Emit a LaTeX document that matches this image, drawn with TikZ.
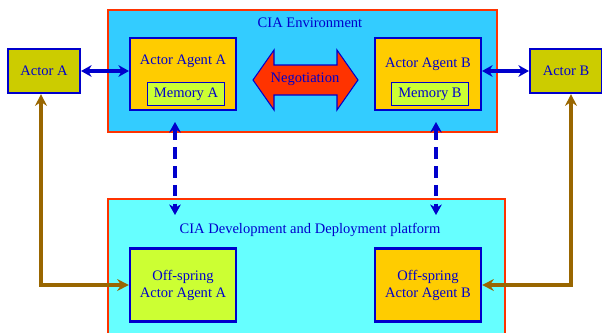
\documentclass[tikz,border=0pt]{standalone}
\usepackage{fontspec}
\setmainfont{Liberation Serif}
\usepackage{tikz}
\usetikzlibrary{calc,positioning,arrows.meta}
\definecolor{envfill}{HTML}{33CCFF}
\definecolor{platfill}{HTML}{66FFFF}
\definecolor{frame}{HTML}{FF3300}
\definecolor{agentfill}{HTML}{FFCC00}
\definecolor{memfill}{HTML}{CCFF33}
\definecolor{actorfill}{HTML}{CCCC00}
\definecolor{ink}{HTML}{0000CC}
\definecolor{link}{HTML}{996600}

\begin{document}
\begin{tikzpicture}[x=0.03cm,y=-0.03cm,font=\fontsize{12.4}{14.5}\selectfont,
  every node/.style={text=ink,inner sep=0pt},
  area/.style={draw=frame,line width=2.5pt},
  agentbox/.style={draw=ink,line width=1.8pt,fill=agentfill,minimum width=106*0.03cm,minimum height=72*0.03cm},
  membox/.style={draw=ink,line width=1pt,fill=memfill,minimum width=77*0.03cm,minimum height=23*0.03cm},
  actorbox/.style={draw=ink,line width=1.8pt,fill=actorfill,minimum width=72*0.03cm,minimum height=44*0.03cm},
  talk/.style={ink,line width=2.6pt,{Stealth[length=9pt,width=10pt]}-{Stealth[length=9pt,width=10pt]}},
  deploy/.style={talk,dash pattern=on 10pt off 6pt},
  spawn/.style={link,line width=2.8pt,{Stealth[length=10pt,width=10pt]}-{Stealth[length=10pt,width=10pt]}}]
\clip (0,0) rectangle (602,333);
% the two areas
\fill[envfill] (108,10) rectangle (497,132);
\draw[area] (108,10) rectangle (497,132);
\node (envtitle) at (310,23) {CIA Environment};
\fill[platfill] (108,199) rectangle (505,345);
\draw[area] (108,199) rectangle (505,345);
\node (plattitle) at (310,230) {CIA Development and Deployment platform};
% agents with their memory
\node[agentbox] (agentA) at (183,74) {};
\node (agentAtxt) at (183,61) {Actor Agent A};
\node[membox] (memA) at (186,94) {Memory A};
\node[agentbox] (agentB) at (428,74) {};
\node (agentBtxt) at (428,64) {Actor Agent B};
\node[membox] (memB) at (430,94) {Memory B};
% negotiation arrow
\draw[ink,fill=frame,line width=0.9pt] (253,80) -- (274,50) -- (274,65) -- (337,65) -- (337,50)
  -- (358,80) -- (337,110) -- (337,95) -- (274,95) -- (274,110) -- cycle;
\node (neg) at (305,79) {Negotiation};
% outside actors
\node[actorbox] (actorA) at (44,71) {Actor A};
\node[actorbox] (actorB) at (566,71) {Actor B};
% off-spring agents
\node[agentbox,fill=memfill,minimum height=73*0.03cm,align=center] (offA) at (183,285) {Off-spring\\Actor Agent A};
\node[agentbox,minimum height=73*0.03cm,align=center] (offB) at (428,285) {Off-spring\\Actor Agent B};
% connectors
\draw[talk] (actorA.east) -- (actorA.east -| agentA.west);
\draw[talk] (actorB.west) -- (actorB.west -| agentB.east);
\coordinate (upA) at (175,122);
\coordinate (downA) at (175,215);
\coordinate (upB) at (436,122);
\coordinate (downB) at (436,215);
\draw[deploy] (upA) -- (downA);
\draw[deploy] (upB) -- (downB);
\coordinate (turnA) at (41,285);
\coordinate (turnB) at (571,285);
\draw[spawn] (offA.west) -- (turnA) -- (turnA |- actorA.south);
\draw[spawn] (offB.east) -- (turnB) -- (turnB |- actorB.south);
\end{tikzpicture}
\end{document}
